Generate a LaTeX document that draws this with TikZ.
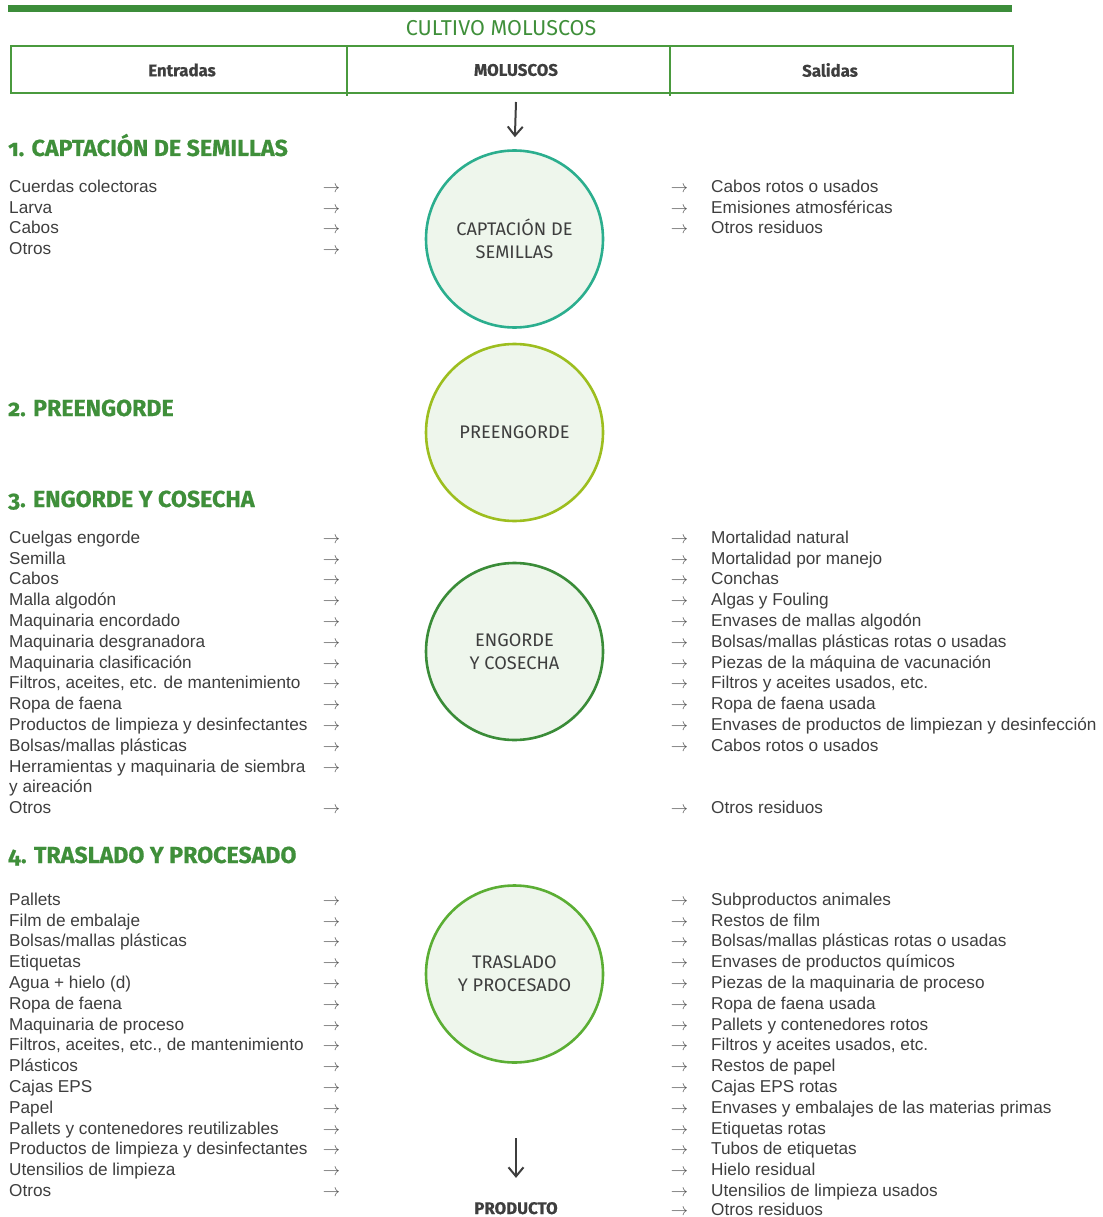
\documentclass[tikz,border=0pt]{standalone}
\usepackage{fontspec}
\setmainfont{Liberation Sans}
\newfontfamily\fira[Numbers=OldStyle]{Fira Sans}
\newfontfamily\firat[Numbers=OldStyle,BoldFeatures={FakeBold=0.6}]{Fira Sans}
\usetikzlibrary{arrows.meta}
\definecolor{barg}{HTML}{3C8D3A}
\definecolor{titleg}{HTML}{3F8F3A}
\definecolor{tabg}{HTML}{4A9A3E}
\definecolor{txt}{HTML}{3E3E3E}
\definecolor{arrg}{HTML}{555555}
\definecolor{cfill}{HTML}{EEF6EC}
\definecolor{c1}{HTML}{2BAE8E}
\definecolor{c2}{HTML}{9DBE1F}
\definecolor{c3}{HTML}{3A8C38}
\definecolor{c4}{HTML}{5BAE34}
\newcommand\lstt[4]{\foreach \t [count=\i] in {#4} {\node[itemtxt] (#3\i) at (#1,{#2+(\i-1)*20.79+6.4}) {\t};}}
\newcommand\arrs[4]{\foreach \i in {#4} {\node[arrtxt] (#3\i) at (#1,{#2+(\i-1)*20.79+6.4}) {$\rightarrow$};}}
\begin{document}
\begin{tikzpicture}[x=1pt,y=-1pt,
  itemtxt/.style={anchor=base west,inner sep=0,font=\fontsize{17.2}{20}\selectfont,text=txt},
  arrtxt/.style={anchor=base,inner sep=0,font=\fontsize{17}{20}\selectfont,text=arrg},
  sectitle/.style={anchor=base west,inner sep=0,font=\firat\bfseries\fontsize{23.2}{27}\selectfont,text=titleg},
  hdr/.style={inner sep=0,font=\firat\bfseries\fontsize{16.8}{20}\selectfont,text=txt},
  stage/.style={circle,draw,line width=2.6pt,fill=cfill,minimum size=177pt,inner sep=0,align=center,
     font=\fira\fontsize{18.2}{23}\selectfont,text=txt},
  bigarrow/.style={draw=txt,line width=2pt,-{Straight Barb[length=9pt,width=15pt,line width=2pt]}}]
\useasboundingbox (0,0) rectangle (1102,1217);
% top bar
\fill[barg] (8,5) rectangle (1012,12);
\node[inner sep=0,font=\fira\fontsize{21.5}{24}\selectfont,text=titleg] (title) at (501,28) {CULTIVO MOLUSCOS};
% table
\draw[tabg,line width=1.3pt] (11,93) -- (11,46) -- (1013,46) -- (1013,93);
\draw[tabg,line width=2.6pt] (10,93) -- (1014,93);
\draw[tabg,line width=1.3pt] (347,46) -- (347,96);
\draw[tabg,line width=1.3pt] (670,46) -- (670,96);
\node[hdr] (hE) at (182,70) {Entradas};
\node[hdr] (hM) at (516,70) {MOLUSCOS};
\node[hdr] (hS) at (830,70) {Salidas};
% circles
\node[stage,draw=c1] (s1) at (514.5,239) {CAPTACIÓN DE\\SEMILLAS};
\node[stage,draw=c2] (s2) at (514.5,432.5) {PREENGORDE};
\node[stage,draw=c3] (s3) at (514.5,651.5) {ENGORDE\\Y COSECHA};
\node[stage,draw=c4] (s4) at (514.5,974) {TRASLADO\\Y PROCESADO};
\node[hdr,anchor=base] (prod) at (516,1214) {PRODUCTO};
\draw[bigarrow,shorten >=12pt] ([yshift=-9pt]hM.south |- 0,93) -- (s1.north);
\coordinate (pstart) at (516,1138);
\draw[bigarrow,shorten >=24pt] (pstart) -- (prod.north);
% section titles
\node[sectitle] (t1) at (8,156) {1. CAPTACIÓN DE SEMILLAS};
\node[sectitle] (t2) at (8,416) {2. PREENGORDE};
\node[sectitle] (t3) at (8,507) {3. ENGORDE Y COSECHA};
\node[sectitle] (t4) at (8,863) {4. TRASLADO Y PROCESADO};
% section 1
\lstt{9}{186}{a}{Cuerdas colectoras,Larva,Cabos,Otros}
\arrs{331.5}{186}{aa}{1,2,3,4}
\lstt{711}{186}{b}{Cabos rotos o usados,Emisiones atmosféricas,Otros residuos}
\arrs{679.5}{186}{ba}{1,2,3}
% section 3
\lstt{9}{537}{c}{Cuelgas engorde,Semilla,Cabos,Malla algodón,Maquinaria encordado,Maquinaria desgranadora,Maquinaria clasificación,{Filtros, aceites, etc. de mantenimiento},Ropa de faena,Productos de limpieza y desinfectantes,Bolsas/mallas plásticas,Herramientas y maquinaria de siembra,y aireación,Otros}
\arrs{331.5}{537}{ca}{1,2,3,4,5,6,7,8,9,10,11,12,14}
\lstt{711}{537}{d}{Mortalidad natural,Mortalidad por manejo,Conchas,Algas y Fouling,Envases de mallas algodón,Bolsas/mallas plásticas rotas o usadas,Piezas de la máquina de vacunación,{Filtros y aceites usados, etc.},Ropa de faena usada,Envases de productos de limpiezan y desinfección,Cabos rotos o usados}
\node[itemtxt] (d14) at (711,{537+13*20.79+6.4}) {Otros residuos};
\arrs{679.5}{537}{da}{1,2,3,4,5,6,7,8,9,10,11,14}
% section 4
\lstt{9}{899}{e}{Pallets,Film de embalaje,Bolsas/mallas plásticas,Etiquetas,Agua + hielo (d),Ropa de faena,Maquinaria de proceso,{Filtros, aceites, etc., de mantenimiento},Plásticos,Cajas EPS,Papel,Pallets y contenedores reutilizables,Productos de limpieza y desinfectantes,Utensilios de limpieza,Otros}
\arrs{331.5}{899}{ea}{1,2,3,4,5,6,7,8,9,10,11,12,13,14,15}
\lstt{711}{899}{f}{Subproductos animales,Restos de film,Bolsas/mallas plásticas rotas o usadas,Envases de productos químicos,Piezas de la maquinaria de proceso,Ropa de faena usada,Pallets y contenedores rotos,{Filtros y aceites usados, etc.},Restos de papel,Cajas EPS rotas,Envases y embalajes de las materias primas,Etiquetas rotas,Tubos de etiquetas,Hielo residual,Utensilios de limpieza usados}
\node[itemtxt] (f16) at (711,{899+15*20.79+4.3}) {Otros residuos};
\node[arrtxt] (fa16) at (679.5,{899+15*20.79+4.3}) {$\rightarrow$};
\arrs{679.5}{899}{fa}{1,2,3,4,5,6,7,8,9,10,11,12,13,14,15}
\end{tikzpicture}
\end{document}
